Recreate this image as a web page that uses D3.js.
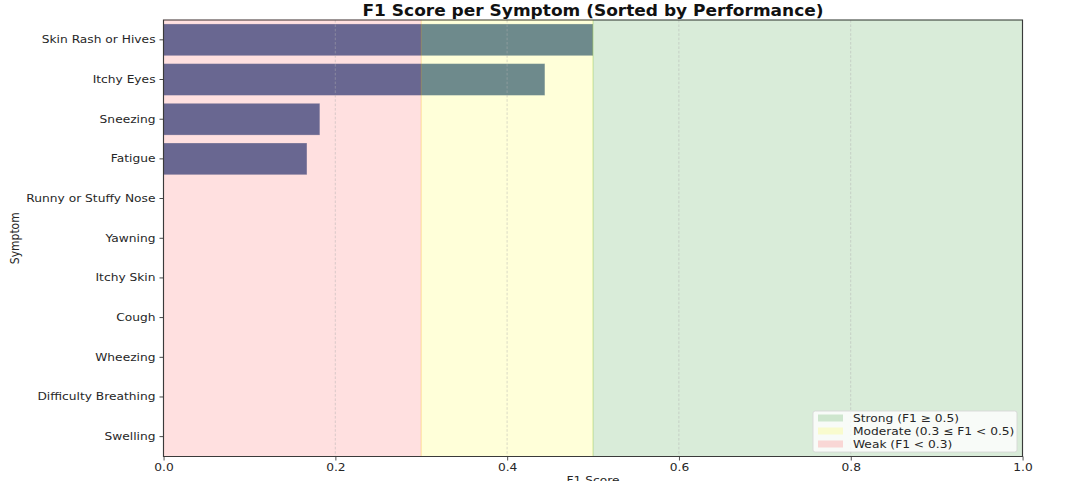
<!DOCTYPE html>
<html>
<head>
<meta charset="utf-8">
<script src="https://cdn.jsdelivr.net/npm/d3@7"></script>
<style>
  html, body { margin: 0; padding: 0; background: #fff; }
  svg { display: block; }
  text { font-family: "DejaVu Sans", sans-serif; fill: #262626; }
</style>
</head>
<body>
<div id="chart-container"></div>
<script>
// data
const symptoms = ["Skin Rash or Hives", "Itchy Eyes", "Sneezing", "Fatigue", "Runny or Stuffy Nose",
  "Yawning", "Itchy Skin", "Cough", "Wheezing", "Difficulty Breathing", "Swelling"];
const f1Scores = [0.5, 0.444, 0.182, 0.167, 0, 0, 0, 0, 0, 0, 0];
const xTicks = [0, 0.2, 0.4, 0.6, 0.8, 1.0];
const gridTicks = [0.2, 0.4, 0.6, 0.8];
const bandNames = ["Weak (F1 < 0.3)", "Moderate (0.3 \u2264 F1 < 0.5)", "Strong (F1 \u2265 0.5)"];
const bandStart = [0, 0.3, 0.5];
const bandEnd = [0.3, 0.5, 1.0];
const legendOrder = [2, 1, 0];

// the picture is a horizontally stretched figure, so draw in a narrower
// coordinate space and let the viewBox stretch it
const SX = 1.134;
const width = 1066, height = 481;
const vbW = width / SX;
const sx = px => px / SX; // screen x -> drawing x

const plot = { left: 163.5, right: 1022.5, top: 20, bottom: 456.5 };
const bandColors = ["red", "yellow", "green"];
const bandAlpha = [0.12, 0.15, 0.15];
const fontSize = 10.8;

const svg = d3.select("#chart-container")
  .append("svg")
  .attr("width", width)
  .attr("height", height)
  .attr("viewBox", `0 0 ${vbW} ${height}`)
  .attr("preserveAspectRatio", "none");

const x = d3.scaleLinear()
  .domain([0, 1])
  .range([sx(plot.left), sx(plot.right)]);

const y = d3.scaleBand()
  .domain(symptoms)
  .range([plot.top, plot.bottom])
  .paddingInner(0.2)
  .paddingOuter(0.1);

// bars
svg.append("g").selectAll("rect")
  .data(symptoms)
  .enter().append("rect")
  .attr("x", x(0))
  .attr("y", d => y(d))
  .attr("width", (d, i) => x(f1Scores[i]) - x(0))
  .attr("height", y.bandwidth())
  .attr("fill", "#5576a5")
  .attr("stroke", "#ffffff")
  .attr("stroke-opacity", 0.35)
  .attr("stroke-width", 0.8);

// performance bands over the bars
svg.append("g").selectAll("rect")
  .data(bandNames)
  .enter().append("rect")
  .attr("x", (d, i) => x(bandStart[i]))
  .attr("y", plot.top)
  .attr("width", (d, i) => x(bandEnd[i]) - x(bandStart[i]))
  .attr("height", plot.bottom - plot.top)
  .attr("fill", (d, i) => bandColors[i])
  .attr("fill-opacity", (d, i) => bandAlpha[i])
  .attr("stroke", (d, i) => bandColors[i])
  .attr("stroke-opacity", (d, i) => bandAlpha[i])
  .attr("stroke-width", 1);

// dashed grid
svg.append("g").selectAll("line")
  .data(gridTicks)
  .enter().append("line")
  .attr("x1", d => x(d)).attr("x2", d => x(d))
  .attr("y1", plot.top).attr("y2", plot.bottom)
  .attr("stroke", "#b0b0b0")
  .attr("stroke-opacity", 0.55)
  .attr("stroke-width", 0.8)
  .attr("stroke-dasharray", "2.6,1.8");

// x axis
const xAxis = svg.append("g")
  .attr("transform", `translate(0,${plot.bottom})`)
  .call(d3.axisBottom(x).tickValues(xTicks).tickFormat(d3.format(".1f")).tickSize(4).tickPadding(3).tickSizeOuter(0));
xAxis.select(".domain").remove();
xAxis.selectAll("line").attr("stroke", "#333").attr("stroke-width", 0.9 / SX);
xAxis.selectAll("text").attr("font-size", fontSize).attr("fill", "#262626");

// y axis
const yAxis = svg.append("g")
  .attr("transform", `translate(${x(0)},0)`)
  .call(d3.axisLeft(y).tickSize(sx(4)).tickPadding(sx(4)).tickSizeOuter(0));
yAxis.select(".domain").remove();
yAxis.selectAll("line").attr("stroke", "#333").attr("stroke-width", 0.9);
yAxis.selectAll("text").attr("font-size", fontSize).attr("fill", "#262626");

// frame
svg.append("rect")
  .attr("x", x(0)).attr("y", plot.top)
  .attr("width", x(1) - x(0)).attr("height", plot.bottom - plot.top)
  .attr("fill", "none")
  .attr("stroke", "#3a3a3a")
  .attr("stroke-width", 1);

// title and axis labels
svg.append("text")
  .attr("x", (x(0) + x(1)) / 2)
  .attr("y", 16.5)
  .attr("text-anchor", "middle")
  .attr("font-size", 15)
  .attr("font-weight", "bold")
  .style("fill", "#111")
  .text("F1 Score per Symptom (Sorted by Performance)");

svg.append("text")
  .attr("x", (x(0) + x(1)) / 2)
  .attr("y", 484)
  .attr("text-anchor", "middle")
  .attr("font-size", fontSize)
  .text("F1 Score");

svg.append("text")
  .attr("transform", `translate(${sx(19)},${(plot.top + plot.bottom) / 2}) rotate(-90)`)
  .attr("text-anchor", "middle")
  .attr("font-size", fontSize)
  .text("Symptom");

// legend
const legend = svg.append("g")
  .attr("transform", `translate(${sx(813)},411)`);

legend.append("rect")
  .attr("width", sx(204))
  .attr("height", 41)
  .attr("rx", 2)
  .attr("fill", "#ffffff")
  .attr("fill-opacity", 0.8)
  .attr("stroke", "#d6d6d6")
  .attr("stroke-width", 0.8);

const items = legend.selectAll(".item")
  .data(legendOrder)
  .enter().append("g")
  .attr("class", "item")
  .attr("transform", (d, i) => `translate(0,${7 + i * 13})`);

items.append("rect")
  .attr("x", sx(5))
  .attr("y", -3.5)
  .attr("width", sx(25))
  .attr("height", 7)
  .attr("fill", d => bandColors[d])
  .attr("fill-opacity", d => bandAlpha[d] + 0.02);

items.append("text")
  .attr("x", sx(40))
  .attr("y", 0)
  .attr("dy", "0.35em")
  .attr("font-size", fontSize)
  .text(d => bandNames[d]);
</script>
</body>
</html>
